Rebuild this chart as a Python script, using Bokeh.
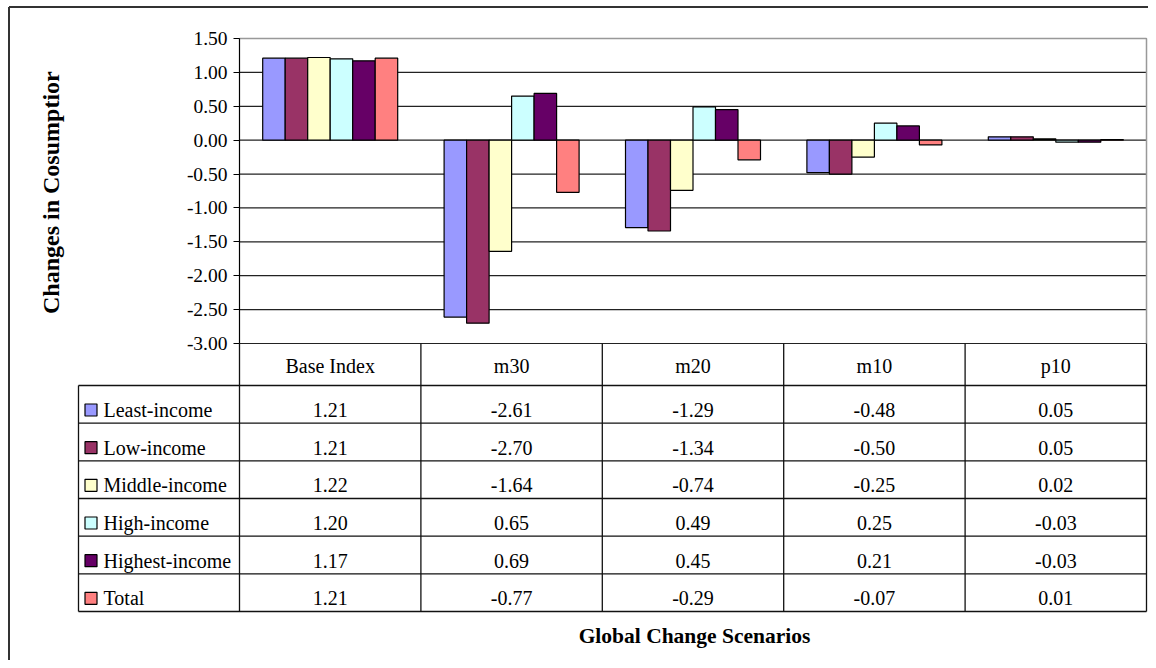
import math
from bokeh.plotting import figure
from bokeh.models import LinearAxis, FixedTicker, PrintfTickFormatter, Range1d
from bokeh.core.properties import value
from bokeh.embed import file_html
from bokeh.resources import INLINE

# ---------------- data ----------------
scenarios = ["Base Index", "m30", "m20", "m10", "p10"]
series_names = ["Least-income", "Low-income", "Middle-income",
                "High-income", "Highest-income", "Total"]
least_income = [1.21, -2.61, -1.29, -0.48, 0.05]
low_income = [1.21, -2.70, -1.34, -0.50, 0.05]
middle_income = [1.22, -1.64, -0.74, -0.25, 0.02]
high_income = [1.20, 0.65, 0.49, 0.25, -0.03]
highest_income = [1.17, 0.69, 0.45, 0.21, -0.03]
total = [1.21, -0.77, -0.29, -0.07, 0.01]
y_ticks = [-3.0, -2.5, -2.0, -1.5, -1.0, -0.5, 0.0, 0.5, 1.0, 1.5]
y_title = "Changes in Cosumptior"
x_title = "Global Change Scenarios"
colors = ["#9999FF", "#993366", "#FFFFCC", "#CCFFFF", "#660066", "#FF8080"]

series_values = [least_income, low_income, middle_income,
                 high_income, highest_income, total]

# ---------------- layout (canvas pixels) ----------------
W, H = 1148, 660
PL, PR = 239, 1146      # plot area left / right
PT, PB = 38, 343        # plot area top / bottom
Y_MIN, Y_MAX = y_ticks[0], y_ticks[-1]
UX = (PR - PL) / len(scenarios)
UY = (PB - PT) / (Y_MAX - Y_MIN)


def dx(px):
    return (px - PL) / UX


def dy(py):
    return Y_MIN + (PB - py) / UY


FONT = value("Liberation Serif")
TXT = "20px"

p = figure(width=W, height=H, output_backend="svg", toolbar_location=None,
           x_range=Range1d(dx(0), dx(W)),
           y_range=Range1d(dy(H), dy(0)),
           x_axis_location=None, y_axis_location=None,
           min_border=0, outline_line_color=None,
           background_fill_color="white", border_fill_color="white")
p.grid.visible = False

# y axis placed at the left edge of the plot area
yaxis = LinearAxis(ticker=FixedTicker(ticks=y_ticks),
                   formatter=PrintfTickFormatter(format="%.2f"),
                   bounds=(Y_MIN, Y_MAX), fixed_location=0,
                   major_tick_out=6, major_tick_in=0,
                   minor_tick_out=0, minor_tick_in=0,
                   axis_line_color="black", axis_line_width=1.2,
                   major_tick_line_color="black", major_tick_line_width=1.2,
                   major_label_text_font="Liberation Serif",
                   major_label_text_font_size="19.5px",
                   major_label_text_color="black",
                   major_label_standoff=6)
p.add_layout(yaxis, "left")

# horizontal gridlines within the plot area
n = len(scenarios)
p.segment(x0=[0] * len(y_ticks), x1=[n] * len(y_ticks), y0=y_ticks, y1=y_ticks,
          line_color="#222222", line_width=1.2)
# plot-area border (top and right, grey)
p.segment(x0=[0, n], x1=[n, n], y0=[Y_MAX, Y_MAX], y1=[Y_MAX, Y_MIN],
          line_color="#999999", line_width=1.5)

# bars
bw = 22.5 / UX
ns = len(series_names)
for i, (vals, col) in enumerate(zip(series_values, colors)):
    xs = [j + 0.5 + (i - (ns - 1) / 2) * bw for j in range(n)]
    p.vbar(x=xs, top=vals, bottom=0, width=bw, fill_color=col,
           line_color="black", line_width=1.2)

# ---------------- data table ----------------
HDR_B = 385
ROW_H = (611 - HDR_B) / ns
row_tops = [HDR_B + k * ROW_H for k in range(ns + 1)]
TL = 78
LINE = "#111111"
# horizontal lines
p.segment(x0=[dx(TL)] * len(row_tops), x1=[n] * len(row_tops),
          y0=[dy(t) for t in row_tops], y1=[dy(t) for t in row_tops],
          line_color=LINE, line_width=1.3)
# vertical lines
p.segment(x0=list(range(n + 1)) + [dx(TL)], x1=list(range(n + 1)) + [dx(TL)],
          y0=[Y_MIN] * (n + 1) + [dy(HDR_B)], y1=[dy(row_tops[-1])] * (n + 2),
          line_color=LINE, line_width=1.3)

# header labels
p.text(x=[j + 0.5 for j in range(n)], y=[dy(365)] * n, text=scenarios,
       text_font=FONT, text_font_size=TXT, text_color="black",
       text_align="center", text_baseline="middle")

for i, (name, vals, col) in enumerate(zip(series_names, series_values, colors)):
    top = row_tops[i]
    ymid = dy(top + 24.5)
    p.text(x=[j + 0.5 for j in range(n)], y=[ymid] * n,
           text=["%.2f" % v for v in vals],
           text_font=FONT, text_font_size=TXT, text_color="black",
           text_align="center", text_baseline="middle")
    p.scatter(x=[dx(90.5)], y=[ymid], marker="square", size=12,
              fill_color=col, line_color="black", line_width=1.2)
    p.text(x=[dx(103)], y=[ymid], text=[name],
           text_font=FONT, text_font_size=TXT, text_color="black",
           text_align="left", text_baseline="middle")

# titles
p.text(x=[dx(694)], y=[dy(635)], text=[x_title], text_font=FONT,
       text_font_size="21.5px", text_font_style="bold", text_color="black",
       text_align="center", text_baseline="middle")
p.text(x=[dx(50)], y=[dy(313.5)], text=[y_title], text_font=FONT,
       text_font_size="24px", text_font_style="bold", text_color="black",
       text_align="left", text_baseline="middle", angle=math.pi / 2)

# outer border (left and top visible)
p.segment(x0=[dx(8.5), dx(8.5)], x1=[dx(8.5), dx(W)],
          y0=[dy(H), dy(6.5)], y1=[dy(6.5), dy(6.5)],
          line_color="#333333", line_width=2)

open("out.html", "w").write(file_html(p, INLINE))
